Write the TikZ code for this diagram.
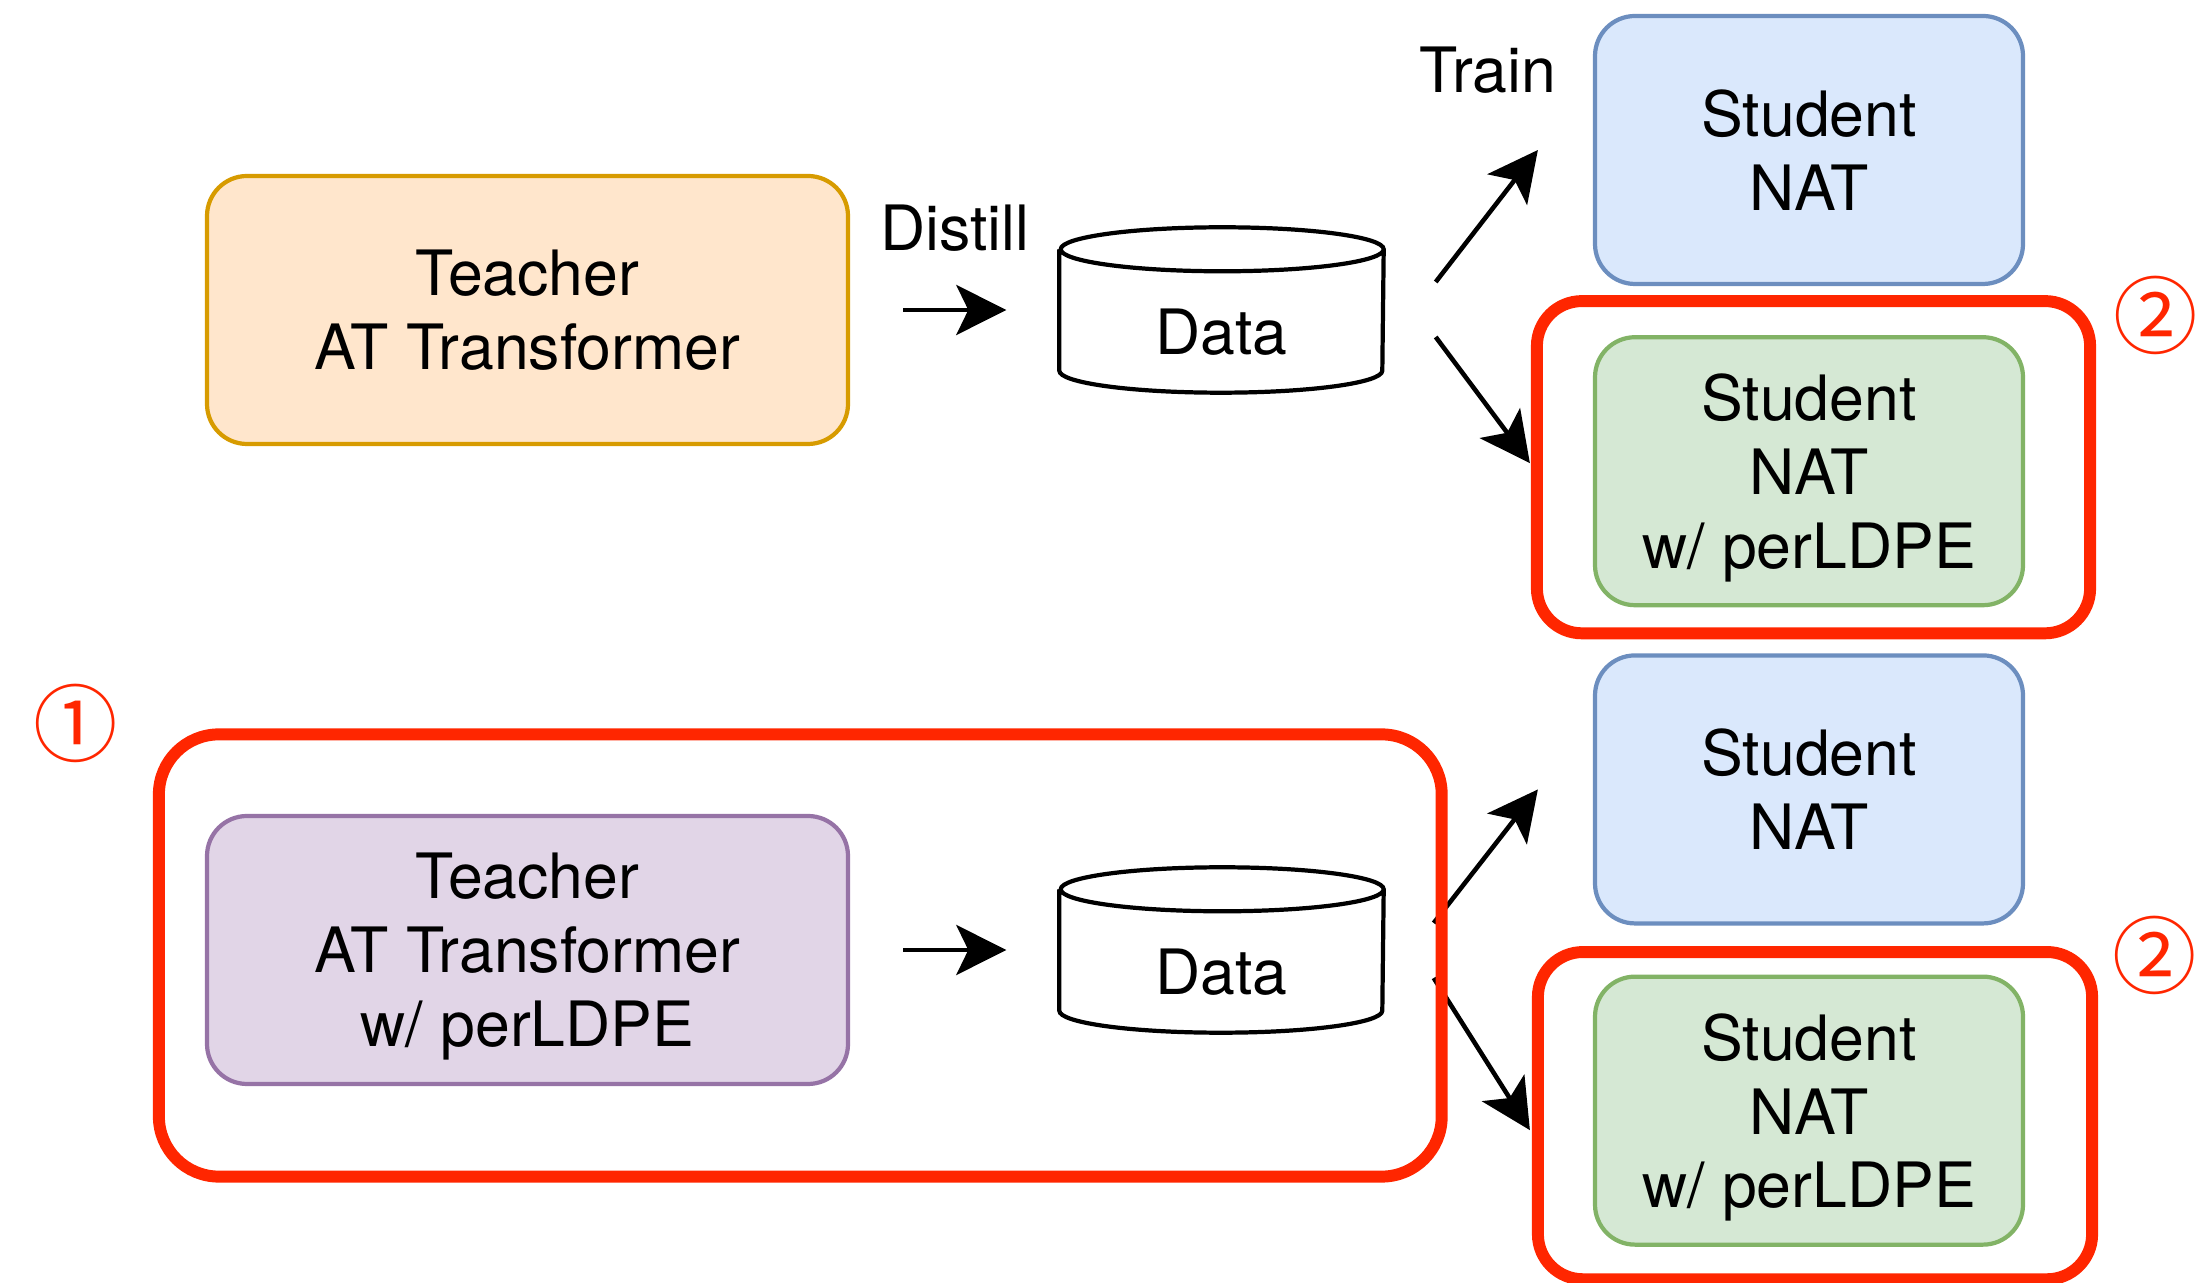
\documentclass[tikz,border=0pt]{standalone}
\usepackage{fontspec}
\setmainfont{TeX Gyre Heros}
\newfontfamily\circfont{Noto Sans CJK JP}
\usetikzlibrary{arrows.meta,positioning,calc,backgrounds}
\definecolor{atorange}{HTML}{D79B00}
\definecolor{atorangefill}{HTML}{FFE6CC}
\definecolor{natblue}{HTML}{6C8EBF}
\definecolor{natbluefill}{HTML}{DAE8FC}
\definecolor{ldpegreen}{HTML}{82B366}
\definecolor{ldpegreenfill}{HTML}{D5E8D4}
\definecolor{ldpepurple}{HTML}{9673A6}
\definecolor{ldpepurplefill}{HTML}{E1D5E7}
\definecolor{markred}{RGB}{255,38,0}

\begin{document}
\begin{tikzpicture}[
    node distance=0.49cm,
    box/.style={
      draw, rounded corners=0.4cm, minimum width=4.28cm,
      minimum height=2.68cm, align=center, text depth=0pt,
      font=\fontsize{17.8}{21}\selectfont, line width=1.2pt
    },
    teachbox/.style={box, minimum width=6.41cm},
    atbox/.style={teachbox, fill=atorangefill, draw=atorange},
    perbox/.style={teachbox, fill=ldpepurplefill, draw=ldpepurple},
    natbox/.style={box, fill=natbluefill, draw=natblue},
    ldpebox/.style={box, fill=ldpegreenfill, draw=ldpegreen},
    databox/.style={minimum width=3.23cm, minimum height=1.20cm,
      inner sep=0pt, text depth=0pt, font=\fontsize{17.8}{21}\selectfont},
    cyl/.style={draw, fill=white, line width=1.2pt},
    lbl/.style={inner sep=0pt, font=\fontsize{17.8}{21}\selectfont},
    circnum/.style={inner sep=0pt, text=markred,
      font=\circfont\fontsize{24}{24}\selectfont},
    arr/.style={-{Stealth[length=0.5cm,width=0.5cm,inset=0.12cm]},
                line width=1.3pt},
    redmark/.style={draw=markred, line width=3.4pt, rounded corners=0.45cm},
  ]
  \useasboundingbox (0,0) rectangle (22.08,-12.83);

  % --- TOP ROW (AT teacher) ---
  \node[atbox] (tteach) at (5.275,-3.10) {Teacher\\AT Transformer};
  \node[databox] (tdata) at (12.215,-3.32) {Data};
  \node[natbox] (tstu) at (18.09,-1.50) {Student\\NAT};
  \node[ldpebox, below=of tstu] (tgreen) {Student\\NAT\\w/ perLDPE};

  % --- BOTTOM ROW (teacher w/ perLDPE) ---
  \node[perbox] (bteach) at (5.275,-9.50) {Teacher\\AT Transformer\\w/ perLDPE};
  \node[databox] (bdata) at (12.215,-9.72) {Data};
  \node[natbox, below=0.46cm of tgreen] (bstu) {Student\\NAT};
  \node[ldpebox, below=of bstu] (bgreen) {Student\\NAT\\w/ perLDPE};

  % Data cylinders
  \begin{scope}[on background layer]
    \foreach \d in {tdata, bdata}
      \draw[cyl] ([yshift=0.22cm]\d.north west) -- ([yshift=0.22cm]\d.south west)
        arc[start angle=180, end angle=360, x radius=1.615cm, y radius=0.22cm]
        -- ([yshift=0.22cm]\d.north east)
        arc[start angle=0, end angle=180, x radius=1.615cm, y radius=0.22cm]
        arc[start angle=180, end angle=360, x radius=1.615cm, y radius=0.22cm];
  \end{scope}

  % Distill arrows
  \draw[arr, shorten <=0.53cm, shorten >=0.53cm] (tteach.east) -- (tteach.east -| tdata.west)
    node[lbl, midway, above=0.56cm] (distill) {Distill};
  \draw[arr, shorten <=0.53cm, shorten >=0.53cm] (bteach.east) -- (bteach.east -| bdata.west);

  % Train arrows
  \node[lbl, anchor=base] (train) at (14.88,-0.93) {Train};
  \draw[arr] ([shift={(0.52,0.50)}]tdata.east) -- ([xshift=-0.55cm]tstu.west);
  \draw[arr] ([shift={(0.52,-0.05)}]tdata.east) -- ([shift={(-0.63,0.08)}]tgreen.west);
  \draw[arr] ([shift={(0.50,0.49)}]bdata.east) -- ([xshift=-0.55cm]bstu.west);
  \draw[arr] ([shift={(0.50,-0.06)}]bdata.east) -- ([shift={(-0.63,-0.195)}]bgreen.west);

  % --- Red markers ---
  \draw[redmark] ($(tgreen.north west)+(-0.56,0.34)$) rectangle
    ($(tgreen.south east)+(0.65,-0.26)$);
  \draw[redmark] ($(bgreen.north west)+(-0.55,0.225)$) rectangle
    ($(bgreen.south east)+(0.67,-0.325)$);
  \draw[redmark, rounded corners=0.6cm] ($(bteach.north west)+(-0.46,0.795)$) rectangle
    ($(bdata.east |- bteach.south)+(0.58,-0.905)$);

  \node[circnum] (one) at (0.76,-7.23) {①};
  \node[circnum] (twotop) at (21.56,-3.15) {②};
  \node[circnum] (twobot) at (21.55,-9.55) {②};

\end{tikzpicture}
\end{document}
